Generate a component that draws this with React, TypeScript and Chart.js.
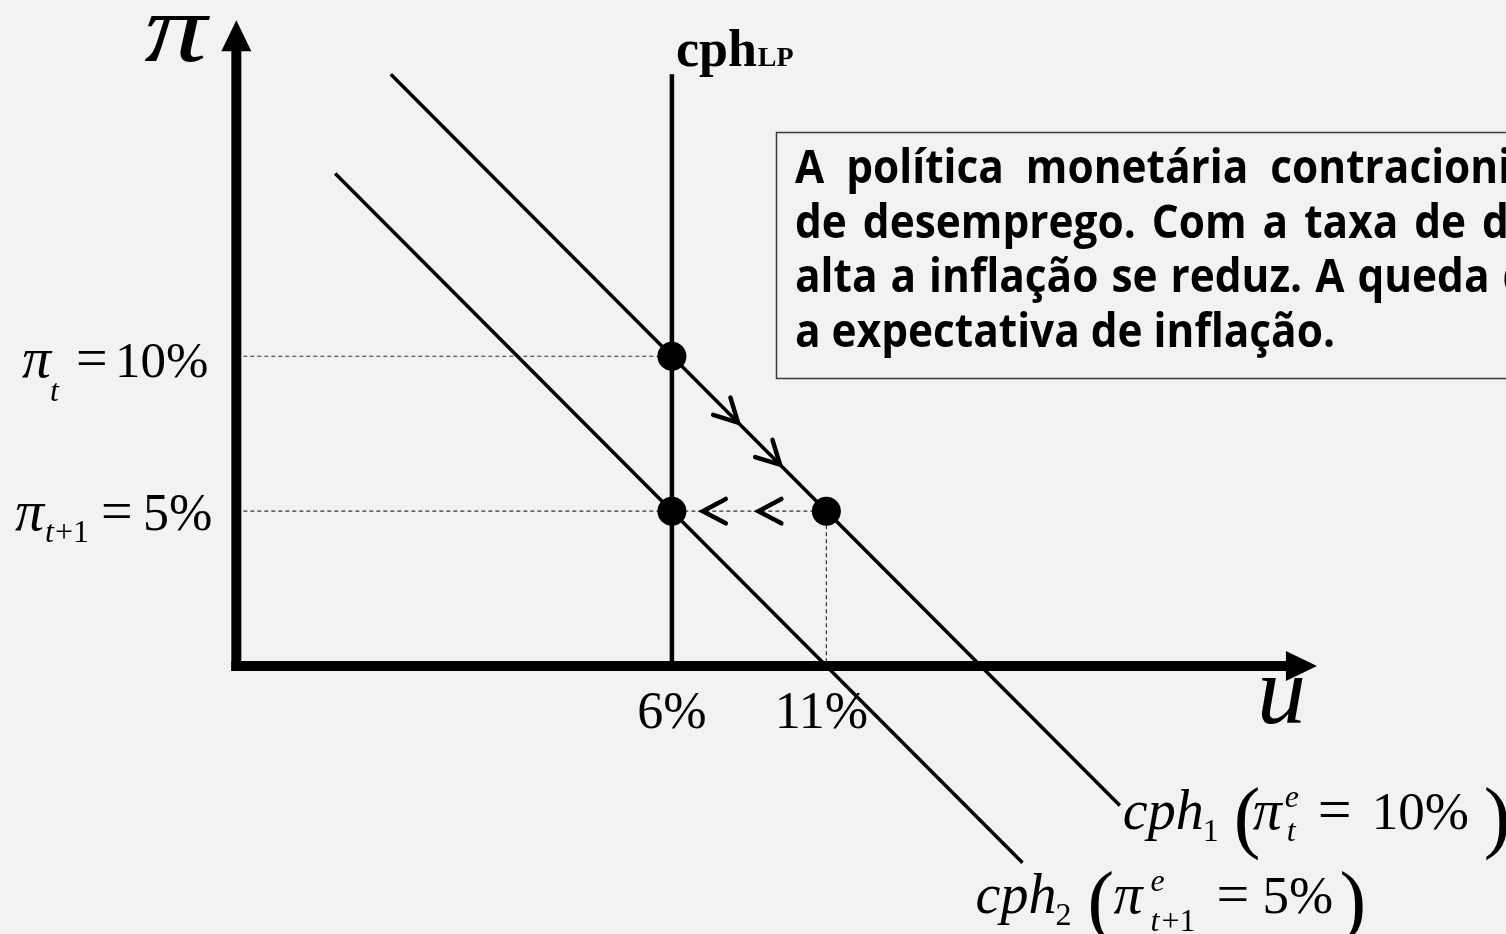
import React, { useEffect, useRef } from 'react';
import { Chart, registerables } from 'chart.js';

Chart.register(...registerables);

// ---- scale ranges (u in %, pi in %) ----
const X_MIN = -15.75;
const X_MAX = 33;
const Y_MIN = -8.65;
const Y_MAX = 21.5;

// ---- axes ----
const AXIS_X = -8.1; // where the vertical (pi) axis stands on the u scale
const X_AXIS_TIP = 26.88;
const Y_AXIS_TIP = 20.85;
const yAxisLine = [{ x: AXIS_X, y: -0.16 }, { x: AXIS_X, y: 20.0 }];
const xAxisLine = [{ x: AXIS_X - 0.16, y: 0 }, { x: 26.0, y: 0 }];

// ---- curves ----
const cph1 = [{ x: -3.1, y: 19.1 }, { x: 20.5, y: -4.5 }];
const cph2 = [{ x: -4.9, y: 15.9 }, { x: 17.35, y: -6.35 }];
const cphLP = [{ x: 6, y: 19.1 }, { x: 6, y: 0 }];

// ---- equilibrium points & guides ----
const equilibria = [{ x: 6, y: 10 }, { x: 6, y: 5 }, { x: 11, y: 5 }];
const guide10 = [{ x: AXIS_X, y: 10 }, { x: 6, y: 10 }];
const guide5 = [{ x: AXIS_X, y: 5 }, { x: 11, y: 5 }];
const guide11 = [{ x: 11, y: 5 }, { x: 11, y: 0 }];

// ---- direction arrows (tips) ----
const arrowsAlong = [{ x: 8.14, y: 7.86 }, { x: 9.5, y: 6.5 }];
const arrowsLeft = [{ x: 7.0, y: 5 }, { x: 8.8, y: 5 }];

// ---- tick labels ----
const uTicks = [6, 11];
const uTickLabels = ['6%', '11%'];
const piTickHigh = 10;
const piTickLow = 5;

// ---- text box ----
const boxLines = [
  { words: ['A', 'política', 'monetária', 'contracionista'], gap: 22 },
  { words: ['de', 'desemprego.', 'Com', 'a', 'taxa', 'de', 'desemprego'], gap: 16 },
  { words: ['alta', 'a', 'inflação', 'se', 'reduz.', 'A', 'queda', 'da'], gap: 13 },
  { words: ['a', 'expectativa', 'de', 'inflação.'], gap: 0 },
];

const SERIF = '"Liberation Serif", "Times New Roman", serif';
const SANS = '"Open Sans", "Noto Sans", sans-serif';

type Run = { t: string; x: number; y: number; font: string };

function drawRuns(ctx: CanvasRenderingContext2D, ox: number, oy: number, runs: Run[]) {
  ctx.textAlign = 'left';
  ctx.textBaseline = 'alphabetic';
  for (const r of runs) {
    ctx.font = r.font;
    ctx.fillText(r.t, ox + r.x, oy + r.y);
  }
}

const decorPlugin = {
  id: 'decor',
  beforeDraw(chart: any) {
    const { ctx, width, height } = chart;
    ctx.save();
    ctx.fillStyle = '#f2f2f2';
    ctx.fillRect(0, 0, width, height);
    ctx.restore();
  },
  afterDatasetsDraw(chart: any) {
    const ctx: CanvasRenderingContext2D = chart.ctx;
    const xs = chart.scales.x;
    const ys = chart.scales.y;
    const px = (v: number) => xs.getPixelForValue(v);
    const py = (v: number) => ys.getPixelForValue(v);
    ctx.save();
    ctx.fillStyle = '#000';
    ctx.strokeStyle = '#000';

    // axis arrowheads
    const ax = px(AXIS_X);
    const ayTip = py(Y_AXIS_TIP);
    ctx.beginPath();
    ctx.moveTo(ax, ayTip);
    ctx.lineTo(ax - 15, ayTip + 31);
    ctx.lineTo(ax + 15, ayTip + 31);
    ctx.closePath();
    ctx.fill();
    const ay0 = py(0);
    const axTip = px(X_AXIS_TIP);
    ctx.beginPath();
    ctx.moveTo(axTip, ay0);
    ctx.lineTo(axTip - 31, ay0 - 15);
    ctx.lineTo(axTip - 31, ay0 + 15);
    ctx.closePath();
    ctx.fill();

    // chevrons
    const chevron = (tx: number, ty: number, dx: number, dy: number) => {
      const len = Math.hypot(dx, dy);
      const ux = dx / len, uy = dy / len;
      const L = 26, th = (28 * Math.PI) / 180;
      const arm = (s: number) => {
        const c = Math.cos(s * th), sn = Math.sin(s * th);
        const bx = -ux, by = -uy;
        return [tx + L * (bx * c - by * sn), ty + L * (bx * sn + by * c)];
      };
      const a1 = arm(1), a2 = arm(-1);
      ctx.beginPath();
      ctx.moveTo(a1[0], a1[1]);
      ctx.lineTo(tx, ty);
      ctx.lineTo(a2[0], a2[1]);
      ctx.lineWidth = 4.5;
      ctx.lineCap = 'round';
      ctx.lineJoin = 'miter';
      ctx.stroke();
    };
    for (const a of arrowsAlong) {
      const tx = px(a.x), ty = py(a.y);
      chevron(tx, ty, px(a.x + 1) - tx, py(a.y - 1) - ty);
    }
    for (const a of arrowsLeft) {
      const tx = px(a.x), ty = py(a.y);
      chevron(tx, ty, px(a.x - 1) - tx, 0);
    }

    // axis titles
    ctx.font = `italic 98px ${SERIF}`;
    ctx.save();
    ctx.translate(ax - 92, 61);
    ctx.scale(1.28, 1);
    ctx.fillText('\u03C0', 0, 0);
    ctx.restore();
    ctx.fillText('u', axTip - 60, ay0 + 57);

    // cph LP
    const x6 = px(6);
    drawRuns(ctx, x6, py(19.1), [
      { t: 'cph', x: 4, y: -8, font: `bold 52px ${SERIF}` },
    ]);
    ctx.font = `bold 52px ${SERIF}`;
    const wCph = ctx.measureText('cph').width;
    drawRuns(ctx, x6, py(19.1), [
      { t: 'LP', x: 4 + wCph + 1, y: -8, font: `bold 28px ${SERIF}` },
    ]);

    // u tick labels
    ctx.font = `52px ${SERIF}`;
    ctx.textAlign = 'center';
    uTicks.forEach((v, i) => {
      const off = i === 0 ? 0 : -5;
      ctx.fillText(uTickLabels[i], px(v) + off, ay0 + 62);
    });

    // pi tick labels
    const yh = py(piTickHigh);
    drawRuns(ctx, 0, yh, [
      { t: '\u03C0', x: 22, y: 21, font: `italic 58px ${SERIF}` },
      { t: 't', x: 50, y: 45, font: `italic 32px ${SERIF}` },
      { t: '=', x: 76, y: 21, font: `56px ${SERIF}` },
      { t: '10%', x: 115, y: 21, font: `51px ${SERIF}` },
    ]);
    const yl = py(piTickLow);
    drawRuns(ctx, 0, yl, [
      { t: '\u03C0', x: 15, y: 19, font: `italic 58px ${SERIF}` },
      { t: 't', x: 45, y: 31, font: `italic 32px ${SERIF}` },
      { t: '+1', x: 55, y: 31, font: `32px ${SERIF}` },
      { t: '=', x: 101, y: 19, font: `56px ${SERIF}` },
      { t: '5%', x: 143, y: 19, font: `52px ${SERIF}` },
    ]);

    // curve labels
    const e1x = px(cph1[1].x), e1y = py(cph1[1].y);
    drawRuns(ctx, e1x, e1y, [
      { t: 'cph', x: 3, y: 24, font: `italic 56px ${SERIF}` },
      { t: '1', x: 83, y: 36, font: `32px ${SERIF}` },
      { t: '(', x: 114, y: 38, font: `80px ${SERIF}` },
      { t: '\u03C0', x: 133, y: 24, font: `italic 58px ${SERIF}` },
      { t: 'e', x: 165, y: 2, font: `italic 32px ${SERIF}` },
      { t: 't', x: 167, y: 36, font: `italic 32px ${SERIF}` },
      { t: '=', x: 198, y: 24, font: `60px ${SERIF}` },
      { t: '10%', x: 252, y: 24, font: `53px ${SERIF}` },
      { t: ')', x: 364, y: 38, font: `80px ${SERIF}` },
    ]);
    const e2x = px(cph2[1].x), e2y = py(cph2[1].y);
    drawRuns(ctx, e2x, e2y, [
      { t: 'cph', x: -47, y: 50, font: `italic 56px ${SERIF}` },
      { t: '2', x: 33, y: 62, font: `32px ${SERIF}` },
      { t: '(', x: 65, y: 64, font: `80px ${SERIF}` },
      { t: '\u03C0', x: 91, y: 50, font: `italic 58px ${SERIF}` },
      { t: 'e', x: 128, y: 28, font: `italic 32px ${SERIF}` },
      { t: 't', x: 128, y: 68, font: `italic 32px ${SERIF}` },
      { t: '+1', x: 139, y: 68, font: `32px ${SERIF}` },
      { t: '=', x: 194, y: 50, font: `58px ${SERIF}` },
      { t: '5%', x: 240, y: 50, font: `53px ${SERIF}` },
      { t: ')', x: 317, y: 64, font: `80px ${SERIF}` },
    ]);

    // text box
    ctx.lineWidth = 1.5;
    ctx.strokeStyle = '#3a3a3a';
    ctx.strokeRect(776.5, 132.5, 900, 246);
    ctx.fillStyle = '#000';
    ctx.textAlign = 'left';
    ctx.font = `bold 46px ${SANS}`;
    const last = boxLines[boxLines.length - 1].words.join(' ');
    const sx = 540 / ctx.measureText(last).width;
    const spaceW = ctx.measureText(' ').width * sx;
    boxLines.forEach((ln, i) => {
      let x = 795;
      const y = 183 + i * 54.7;
      const gap = ln.gap || spaceW;
      for (const w of ln.words) {
        ctx.save();
        ctx.translate(x, y);
        ctx.scale(sx, 1);
        ctx.fillText(w, 0, 0);
        ctx.restore();
        x += ctx.measureText(w).width * sx + gap;
      }
    });

    ctx.restore();
  },
};

export default function App() {
  const ref = useRef<HTMLCanvasElement | null>(null);
  useEffect(() => {
    document.body.style.margin = '0';
    document.body.style.background = '#f2f2f2';
    if (!ref.current) return;
    const lineDs = (data: any[], w: number, extra: any = {}) => ({
      data,
      showLine: true,
      borderColor: '#000',
      borderWidth: w,
      pointRadius: 0,
      fill: false,
      borderCapStyle: 'butt',
      ...extra,
    });
    const dash = { borderColor: '#333', borderDash: [4, 3] };
    const chart = new Chart(ref.current, {
      type: 'scatter',
      data: {
        datasets: [
          {
            data: equilibria,
            showLine: false,
            pointRadius: 14.5,
            pointBackgroundColor: '#000',
            pointBorderColor: '#000',
            pointBorderWidth: 0,
          },
          lineDs(yAxisLine, 10),
          lineDs(xAxisLine, 10),
          lineDs(cph1, 3.5),
          lineDs(cph2, 3.5),
          lineDs(cphLP, 4.5),
          lineDs(guide10, 1.2, dash),
          lineDs(guide5, 1.2, dash),
          lineDs(guide11, 1.2, dash),
        ] as any,
      },
      options: {
        animation: false,
        responsive: false,
        devicePixelRatio: 1,
        layout: { padding: 0, autoPadding: false },
        plugins: { legend: { display: false }, tooltip: { enabled: false } },
        events: [],
        scales: {
          x: { type: 'linear', min: X_MIN, max: X_MAX, display: false },
          y: { type: 'linear', min: Y_MIN, max: Y_MAX, display: false },
        },
      },
      plugins: [decorPlugin],
    });
    return () => chart.destroy();
  }, []);
  return (
    <div style={{ width: 1506, height: 934 }}>
      <canvas ref={ref} width={1506} height={934} />
    </div>
  );
}
